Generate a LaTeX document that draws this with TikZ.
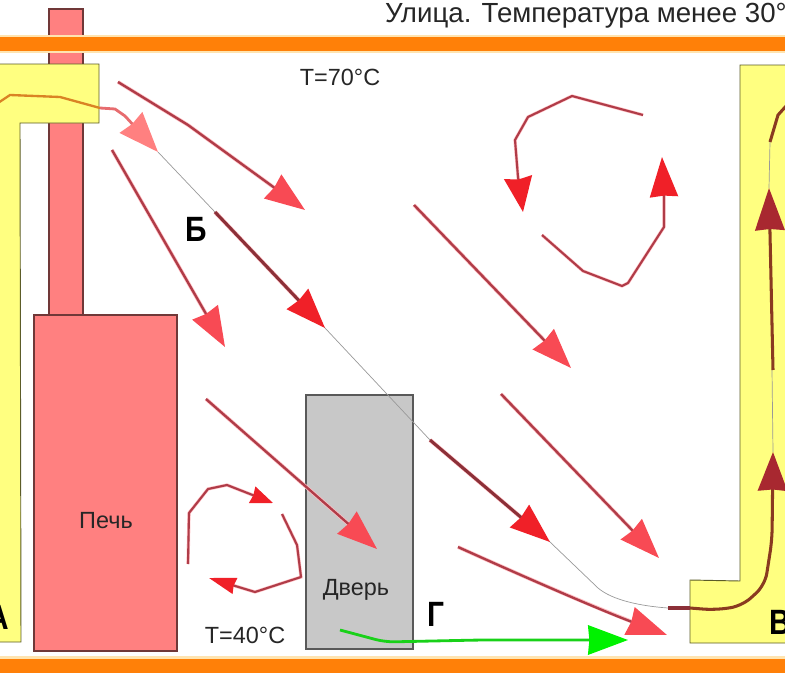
\documentclass[tikz,border=0pt]{standalone}
\usepackage{fontspec}
\setmainfont{Liberation Sans}
\newfontfamily\letterfont[FakeStretch=0.85]{Liberation Sans}
\usetikzlibrary{arrows.meta}
\definecolor{wallorange}{HTML}{FF8008}
\definecolor{wallhalo}{HTML}{FFE4B0}
\definecolor{ductyellow}{HTML}{FFFF80}
\definecolor{ductline}{HTML}{5C5C28}
\definecolor{stovered}{HTML}{FF8080}
\definecolor{stoveline}{HTML}{703838}
\definecolor{doorgray}{HTML}{C8C8C8}
\definecolor{shaftred}{HTML}{B03C48}
\definecolor{shafthalo}{HTML}{FFC0C4}
\definecolor{tipred}{HTML}{F84A54}
\definecolor{hotred}{HTML}{F02028}
\definecolor{darkshaft}{HTML}{8C3038}
\definecolor{ductshaft}{HTML}{8A3A20}
\definecolor{ducttip}{HTML}{A82830}
\tikzset{
  halo/.style={preaction={draw=shafthalo,line width=#1,shorten >=12pt,-}},
  flow/.style={halo=3.2pt,draw=shaftred,line width=2pt,line join=round,
    -{Stealth[length=34pt,width=25pt,inset=1.5pt,fill=tipred,color=tipred]}},
  hotflow/.style={halo=3.6pt,draw=darkshaft,line width=2.6pt,line join=round,
    -{Stealth[length=34pt,width=25pt,inset=1.5pt,fill=hotred,color=hotred]}},
  swirl/.style={halo=2.8pt,draw=shaftred,line width=1.8pt,line join=round},
  ductflow/.style={draw=ductshaft,line width=2.6pt,line join=round},
  trace/.style={draw=gray!80,line width=0.6pt},
  label/.style={inner sep=0pt,font=\fontsize{20}{24}\selectfont,text=black!85},
  letter/.style={inner sep=0pt,font=\letterfont\fontsize{30}{34}\bfseries\selectfont}
}
\begin{document}
\begin{tikzpicture}[x=0.03cm,y=-0.03cm]
  \useasboundingbox (0,0) rectangle (785,673);
  \clip (0,0) rectangle (785,673);
  % chimney and stove
  \draw[fill=stovered,draw=stoveline,line width=0.9pt] (49,9) rectangle (83,320);
  \draw[fill=stovered,draw=stoveline,line width=0.9pt] (34,315) rectangle (177,651);
  \node[label] (stove) at (106,521) {Печь};
  % walls
  \fill[wallhalo] (-2,35) rectangle (787,53);
  \fill[wallorange] (-2,37) rectangle (787,51);
  \fill[wallhalo] (-2,656) rectangle (787,675);
  \fill[wallorange] (-2,659) rectangle (787,675);
  % ducts
  \draw[fill=ductyellow,draw=ductline,line width=0.8pt] (-2,64) -- (99,64) -- (99,123) -- (20,123) -- (21,642) -- (-2,642) -- cycle;
  \draw[fill=ductyellow,draw=ductline,line width=0.8pt] (787,65) -- (740,65) -- (740,581) -- (690,580) -- (690,643) -- (787,643) -- cycle;
  % door
  \draw[fill=doorgray,draw=black!65,line width=0.9pt] (306,395) rectangle (413,649);
  \node[label] (door) at (356,590) {Дверь};
  % thin line through the hot arrows
  \draw[trace] (158,152) -- (325,328) -- (430,440) -- (550,542) -- (598,588) .. controls (612,600) and (640,606) .. (668,608);
  \draw[trace] (772,370) -- (773,452);
  \draw[trace] (769,188) -- (770,142);
  % straight air flows
  \foreach \a/\b in {{112,150}/{225,347},{414,205}/{571,368},{501,394}/{659,558},{206,399}/{377,549}}
    \draw[flow] (\a) -- (\b);
  \draw[flow] (118,82) -- (188,125) -- (305,210);
  \draw[flow] (458,547) .. controls (520,575) and (600,610) .. (667,635);
  \foreach \a/\b in {{215,212}/{325,328},{430,440}/{550,542}}
    \draw[hotflow] (\a) -- (\b);
  % flow leaving the left duct
  \draw[draw=stovered!70!shaftred,line width=2.4pt,line join=round,-{Stealth[length=34pt,width=26pt,inset=1.5pt,fill=stovered,color=stovered]}] (100,108) -- (115,109) -- (125,116) -- (158,152);
  \draw[draw=ductshaft!40!orange!80!ductyellow,line width=2pt,line join=round] (-2,103) -- (10,95) -- (60,97) -- (100,108);
  % swirls
  \draw[swirl,-{Stealth[length=30pt,width=24pt,inset=2pt,fill=hotred,color=hotred]}] (643,115) -- (572,96) -- (528,117) -- (515,140) -- (518,177) -- (523,212);
  \draw[swirl,-{Stealth[length=34pt,width=24pt,inset=1pt,fill=hotred,color=hotred]}] (542,235) -- (583,271) -- (622,286) -- (628,283) -- (664,227) -- (664,197) -- (662,157);
  \draw[swirl,-{Stealth[length=19pt,width=15pt,inset=1pt,fill=hotred,color=hotred]}] (188,564) -- (189,513) -- (208,489) -- (227,485) -- (273,503);
  \draw[swirl,-{Stealth[length=23pt,width=14pt,inset=1pt,fill=hotred,color=hotred]}] (282,514) -- (297,545) -- (301,577) -- (255,592) -- (209,578);
  % flow entering the right duct
  \draw[ductflow,draw=darkshaft] (668,608) -- (690,608);
  \draw[ductflow,rounded corners=10pt,-{Stealth[length=33pt,width=25pt,inset=1pt,fill=ducttip,color=ducttip]}] (690,608) -- (715,610) -- (742,606) -- (765,585) -- (772,540) -- (773,452);
  \draw[ductflow,-{Stealth[length=36pt,width=25pt,inset=1pt,fill=ducttip,color=ducttip]}] (773,370) -- (769,188);
  \draw[ductflow] (770,142) -- (778,115) -- (787,105);
  % green flow
  \draw[draw=green!80!black!90,line width=2.4pt,line join=round,rounded corners=8pt,-{Stealth[length=34pt,width=25pt,inset=1pt,fill=green!95!black,color=green!95!black]}] (340,630) -- (385,642) -- (480,640) -- (628,640);
  % labels
  \node[label,font=\fontsize{23.6}{27}\selectfont,anchor=base west] (street) at (385,23) {Улица. Температура менее 30°С};
  \node[label] (hot) at (340,77) {T=70°C};
  \node[label] (cold) at (245,635) {T=40°C};
  \node[letter] (markB) at (196,229) {Б};
  \node[letter] (markG) at (436,614) {Г};
  \node[letter] (markA) at (-2,617) {А};
  \node[letter] (markV) at (780,622) {В};
\end{tikzpicture}
\end{document}
